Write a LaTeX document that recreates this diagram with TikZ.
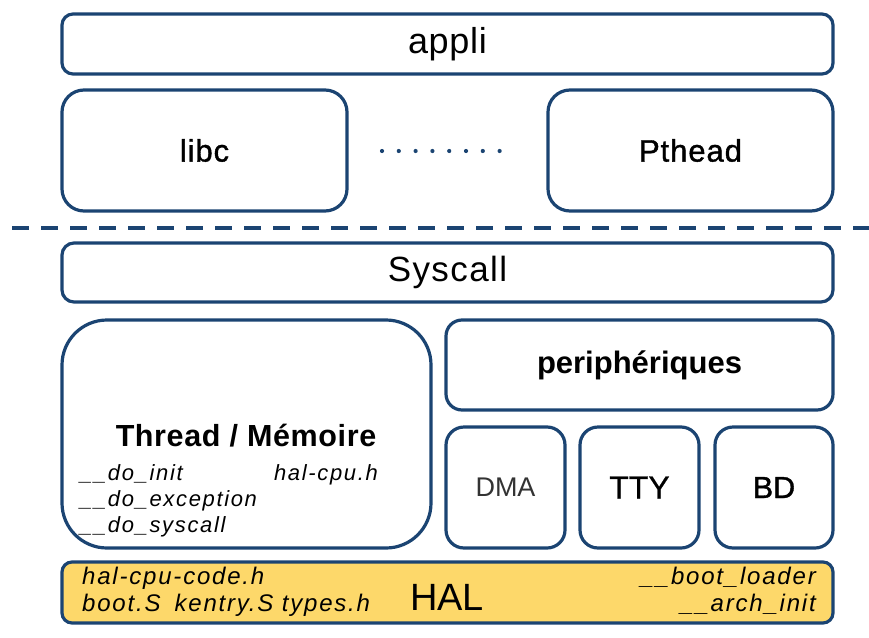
\documentclass[tikz,border=0pt]{standalone}
\usepackage{fontspec}
\setmainfont{Liberation Sans}
\definecolor{frame}{HTML}{1B4472}
\definecolor{halfill}{HTML}{FDD86A}
\definecolor{dmatext}{HTML}{333333}
\newcommand{\bigtxt}{\fontsize{35}{40}\selectfont\addfontfeature{LetterSpace=4}}
\newcommand{\midtxt}{\fontsize{31}{36}\selectfont\addfontfeature{LetterSpace=3,FakeBold=1.2}}
\newcommand{\smalltxt}{\fontsize{22}{26}\selectfont\itshape\addfontfeature{LetterSpace=7.5}}
\newcommand{\haltxt}{\fontsize{24}{27}\selectfont\itshape\addfontfeature{LetterSpace=7.5}}
\begin{document}
\begin{tikzpicture}[x=1pt,y=-1pt,
  box/.style={draw=frame, line width=3.2pt, fill=white, rounded corners=#1,
    inner sep=0pt, anchor=center, font=\midtxt},
  box/.default=12pt,
  note/.style={inner sep=0pt, font=\smalltxt},
  halnote/.style={inner sep=0pt, font=\haltxt},
  sep/.style={draw=frame, line width=4pt, dash pattern=on 17pt off 12pt},
  dots/.style={draw=frame, line width=4.2pt, line cap=round, dash pattern=on 0pt off 16.8pt}
]
\useasboundingbox (0,0) rectangle (869,637);

% top layer
\node[box=11pt, minimum width=771pt, minimum height=60pt, font=\fontsize{36}{40}\selectfont\addfontfeature{LetterSpace=2}] (appli) at (447.5,44) {appli};
\node[box=22pt, minimum width=285pt, minimum height=121pt] (libc) at (204.5,150.5) {libc};
\node[box=22pt, minimum width=285pt, minimum height=121pt] (pthead) at (690.5,150.5) {Pthead};
\coordinate (d1) at (382,151);
\coordinate (d2) at (502,151);
\draw[dots] (d1) -- (d2);

% separator
\coordinate (s1) at (12,228);
\coordinate (s2) at (869,228);
\draw[sep] (s1) -- (s2);

% kernel
\node[box=12pt, minimum width=771pt, minimum height=59pt, font=\bigtxt] (syscall) at (447.5,272.5) {Syscall};
\node[box=45pt, minimum width=369pt, minimum height=228pt] (thread) at (246.5,434) {};
\node[inner sep=0pt, font=\fontsize{30.5}{34}\selectfont\bfseries\addfontfeature{LetterSpace=2}, anchor=base] (threadlbl) at (246,446) {Thread / Mémoire};
\node[note, anchor=base west] (doinit) at (80,480) {\_\_do\_init};
\node[note, anchor=base east] (halcpu) at (378,480) {hal-cpu.h};
\node[note, anchor=base west] (doexc) at (80,506) {\_\_do\_exception};
\node[note, anchor=base west] (dosys) at (80,532) {\_\_do\_syscall};

\node[box=16pt, minimum width=387pt, minimum height=90pt, font=\fontsize{31}{36}\selectfont\bfseries] (periph) at (639.5,365) {periphériques};
\node[box=18pt, minimum width=119pt, minimum height=121pt, font=\fontsize{27}{30}\selectfont, text=dmatext] (dma) at (505.5,487.5) {DMA};
\node[box=18pt, minimum width=119pt, minimum height=121pt, font=\fontsize{32}{36}\selectfont\addfontfeature{FakeBold=0.6}] (tty) at (639.5,487.5) {TTY};
\node[box=18pt, minimum width=118pt, minimum height=121pt, font=\fontsize{30.5}{34}\selectfont\addfontfeature{FakeBold=1.2}] (bd) at (774,487.5) {BD};

% HAL
\node[box=10pt, fill=halfill, minimum width=771pt, minimum height=61pt] (hal) at (447.5,592.5) {};
\node[inner sep=0pt, font=\fontsize{38}{42}\selectfont, anchor=base] (hallbl) at (447,610) {HAL};
\node[halnote, anchor=base west] (halcode) at (82,584) {hal-cpu-code.h};
\node[halnote, anchor=base west] (boots) at (82,611) {boot.S\hspace{14pt}kentry.S types.h};
\node[halnote, anchor=base east] (bootld) at (816,584) {\_\_boot\_loader};
\node[halnote, anchor=base east] (archinit) at (816,611) {\_\_arch\_init};
\end{tikzpicture}
\end{document}
